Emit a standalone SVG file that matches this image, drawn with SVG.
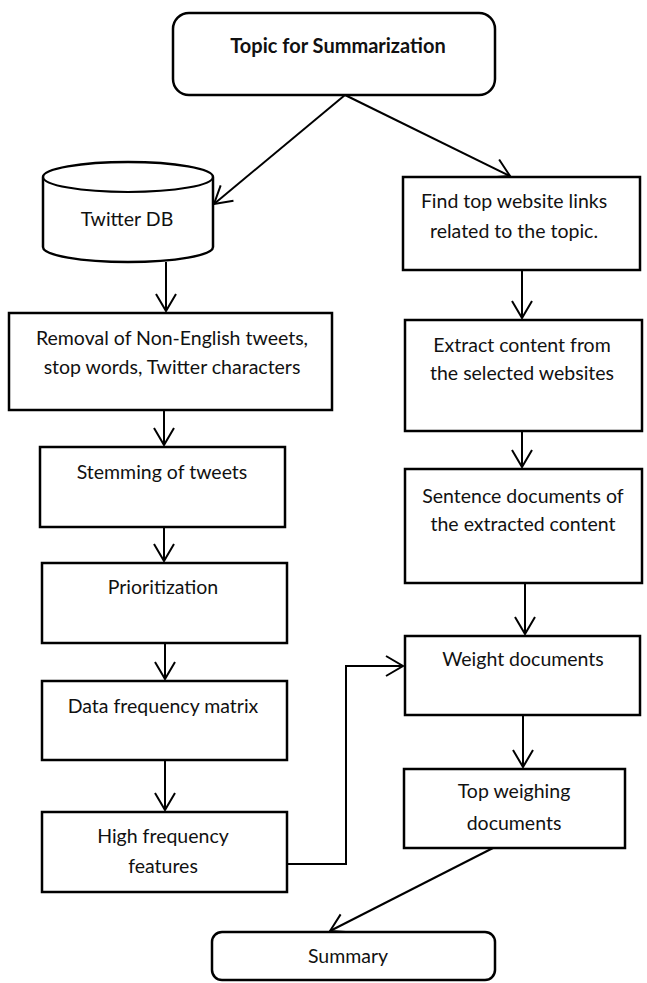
<svg xmlns="http://www.w3.org/2000/svg" width="647" height="983" viewBox="0 0 647 983">
<style>
.box{fill:#fff;stroke:#000;stroke-width:2.5}
.t{font-family:Lato,"Open Sans","Liberation Sans",sans-serif;font-size:19.5px;fill:#111;text-anchor:middle}
.b{font-weight:bold;font-size:20px}
.c{fill:none;stroke:#000;stroke-width:2}
</style>
<defs>
<marker id="ah" viewBox="-20 -12 24 24" refX="0" refY="0" markerWidth="24" markerHeight="24" markerUnits="userSpaceOnUse" orient="auto">
<path d="M-17,-10 L0,0 L-17,10" fill="none" stroke="#000" stroke-width="2"/>
</marker>
</defs>
<rect width="647" height="983" fill="#fff"/>
<g id="connectors">
<line class="c" x1="345" y1="95" x2="214" y2="204" marker-end="url(#ah)"/>
<line class="c" x1="345" y1="95" x2="510" y2="176" marker-end="url(#ah)"/>
<line class="c" x1="166" y1="262" x2="166" y2="311" marker-end="url(#ah)"/>
<line class="c" x1="164" y1="410" x2="164" y2="445" marker-end="url(#ah)"/>
<line class="c" x1="164" y1="527" x2="164" y2="561" marker-end="url(#ah)"/>
<line class="c" x1="165" y1="643" x2="165" y2="679" marker-end="url(#ah)"/>
<line class="c" x1="165" y1="760" x2="165" y2="810" marker-end="url(#ah)"/>
<polyline class="c" points="287,864 346,864 346,666 403,666" marker-end="url(#ah)"/>
<line class="c" x1="522" y1="270" x2="522" y2="318" marker-end="url(#ah)"/>
<line class="c" x1="522" y1="431" x2="522" y2="467" marker-end="url(#ah)"/>
<line class="c" x1="525" y1="583" x2="525" y2="634" marker-end="url(#ah)"/>
<line class="c" x1="523" y1="715" x2="523" y2="767" marker-end="url(#ah)"/>
<line class="c" x1="493" y1="848" x2="330" y2="931" marker-end="url(#ah)"/>
</g>
<g id="topic">
<rect class="box" x="173" y="13" width="322" height="82" rx="16"/>
<text class="t b" x="338" y="53">Topic for Summarization</text>
</g>
<g id="twitterdb">
<path class="box" d="M43,177 A85,15 0 0 1 213,177 L213,247 A85,15 0 0 1 43,247 Z"/>
<path class="c" stroke-width="2.5" d="M43,177 A85,15 0 0 0 213,177"/>
<text class="t" x="127" y="226">Twitter DB</text>
</g>
<g id="removal">
<rect class="box" x="9" y="313" width="323" height="97"/>
<text class="t" x="172" y="345">Removal of Non-English tweets,</text>
<text class="t" x="172" y="374">stop words, Twitter characters</text>
</g>
<g id="stemming">
<rect class="box" x="40" y="447" width="245" height="80"/>
<text class="t" x="162" y="479">Stemming of tweets</text>
</g>
<g id="prioritization">
<rect class="box" x="42" y="563" width="245" height="80"/>
<text class="t" x="163" y="594">Prioritization</text>
</g>
<g id="datafreq">
<rect class="box" x="42" y="681" width="245" height="79"/>
<text class="t" x="163" y="713">Data frequency matrix</text>
</g>
<g id="highfreq">
<rect class="box" x="42" y="812" width="245" height="80"/>
<text class="t" x="163" y="843">High frequency</text>
<text class="t" x="163" y="873">features</text>
</g>
<g id="findtop">
<rect class="box" x="403" y="177" width="237" height="93"/>
<text class="t" x="514" y="208">Find top website links</text>
<text class="t" x="514" y="238">related to the topic.</text>
</g>
<g id="extract">
<rect class="box" x="405" y="320" width="237" height="111"/>
<text class="t" x="522" y="352">Extract content from</text>
<text class="t" x="522" y="380">the selected websites</text>
</g>
<g id="sentence">
<rect class="box" x="405" y="469" width="237" height="114"/>
<text class="t" x="523" y="503">Sentence documents of</text>
<text class="t" x="523" y="531">the extracted content</text>
</g>
<g id="weight">
<rect class="box" x="405" y="636" width="235" height="79"/>
<text class="t" x="523" y="666">Weight documents</text>
</g>
<g id="topweighing">
<rect class="box" x="404" y="769" width="221" height="79"/>
<text class="t" x="514" y="798">Top weighing</text>
<text class="t" x="514" y="830">documents</text>
</g>
<g id="summary">
<rect class="box" x="212" y="932" width="283" height="48" rx="10"/>
<text class="t" x="348" y="963">Summary</text>
</g>
</svg>
